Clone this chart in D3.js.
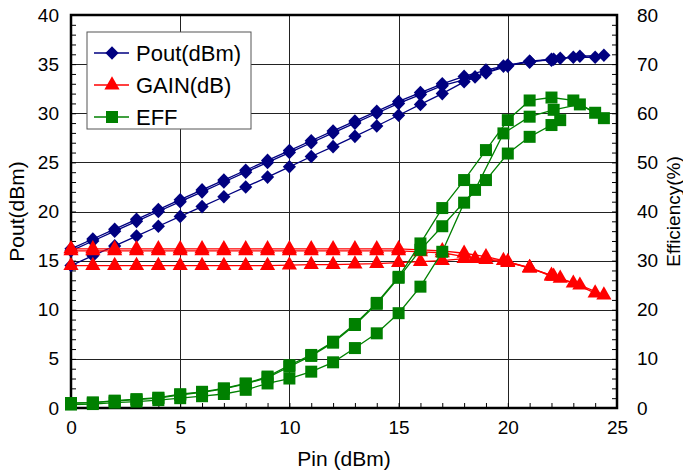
<!DOCTYPE html>
<html>
<head>
<meta charset="utf-8">
<script src="https://cdn.jsdelivr.net/npm/d3@7/dist/d3.min.js"></script>
<style>
  body { margin: 0; background: #fff; }
  svg text { font-family: "Liberation Sans", Arial, sans-serif; fill: #000; }
</style>
</head>
<body>
<svg id="chart"></svg>
<script>
// three sweeps: A and B (upper gain), C (lower gain)
var pinA = [0,1,2,3,4,5,6,7,8,9,10,11,12,13,14,15,16,17,18,19,20,21,22,23,24];
var poutA = [16.2,17.2,18.2,19.2,20.2,21.2,22.2,23.2,24.2,25.2,26.2,27.2,28.2,29.2,30.2,31.2,32.1,33.0,33.75,34.4,34.9,35.2,35.5,35.7,35.7];
var gainA = [16.2,16.2,16.2,16.2,16.2,16.2,16.2,16.2,16.2,16.2,16.2,16.2,16.2,16.2,16.2,16.2,16.1,16.0,15.75,15.4,14.9,14.2,13.5,12.7,11.7];
var effA = [1.0,1.1,1.5,1.8,2.1,2.8,3.3,4.0,5.0,6.4,8.7,10.8,13.5,17.1,21.4,26.7,33.5,40.7,46.4,52.5,58.6,62.6,63.2,62.6,60.1];

var pinB = [0,1,2,3,4,5,6,7,8,9,10,11,12,13,14,15,16,17,18.5,19.8,21,22.1,23.3,24.4];
var poutB = [16.0,17.0,18.0,19.0,20.0,21.0,22.0,23.0,24.0,25.0,26.0,27.0,28.0,29.0,30.0,31.0,31.9,32.8,33.7,34.8,35.3,35.5,35.8,35.9];
var gainB = [16.0,16.0,16.0,16.0,16.0,16.0,16.0,16.0,16.0,16.0,16.0,16.0,16.0,16.0,16.0,16.0,15.9,15.8,15.2,15.0,14.3,13.4,12.5,11.5];
var effB = [1.0,1.1,1.4,1.7,2.0,2.7,3.2,3.9,4.9,6.2,8.4,10.6,13.3,16.9,21.2,26.5,32.2,37.0,44.4,55.9,59.3,60.7,61.8,59.0];

var pinC = [0,1,2,3,4,5,6,7,8,9,10,11,12,13,14,15,16,17,18,19,20,21,22,22.4];
var poutC = [14.5,15.5,16.5,17.5,18.5,19.5,20.5,21.5,22.5,23.5,24.55,25.6,26.6,27.65,28.7,29.8,30.9,32.0,33.2,34.1,34.8,35.3,35.4,35.6];
var gainC = [14.5,14.5,14.5,14.5,14.5,14.5,14.5,14.5,14.5,14.5,14.55,14.6,14.6,14.65,14.7,14.8,14.9,15.0,15.2,15.1,14.8,14.3,13.4,13.2];
var effC = [0.7,0.8,1.1,1.3,1.6,2.0,2.4,2.85,3.7,5.0,6.0,7.4,9.3,12.2,15.2,19.3,24.7,31.8,41.8,46.4,51.8,55.2,57.6,58.6];

var legendNames = ["Pout(dBm)","GAIN(dB)","EFF"];
var colorNavy = "#000080", colorRed = "#ff0000", colorGreen = "#008000";

var screen = { width: 683, height: 470 };
var margins = { top: 15, bottom: 62, left: 71, right: 66 };
var width = screen.width - margins.left - margins.right;
var height = screen.height - margins.top - margins.bottom;

var svg = d3.select("#chart")
            .attr("width", screen.width)
            .attr("height", screen.height);

var xScale = d3.scaleLinear().domain([0,25]).range([0,width]);
var yScale = d3.scaleLinear().domain([0,40]).range([height,0]);
var y2Scale = d3.scaleLinear().domain([0,80]).range([height,0]);

var plot = svg.append("g")
              .attr("transform","translate("+margins.left+","+margins.top+")");

// grid
plot.append("g").selectAll("line")
    .data([5,10,15,20])
    .enter().append("line")
    .attr("x1",function(d){return Math.round(xScale(d))+0.5;})
    .attr("x2",function(d){return Math.round(xScale(d))+0.5;})
    .attr("y1",0).attr("y2",height)
    .attr("stroke","#222").attr("stroke-width",1);
plot.append("g").selectAll("line")
    .data([5,10,15,20,25,30,35])
    .enter().append("line")
    .attr("y1",function(d){return Math.round(yScale(d))+0.5;})
    .attr("y2",function(d){return Math.round(yScale(d))+0.5;})
    .attr("x1",0).attr("x2",width)
    .attr("stroke","#222").attr("stroke-width",1);

// axes, ticks inward
var fmt5 = function(d){ return d%5===0 ? d : ""; };
var xAxis = d3.axisBottom(xScale).tickValues(d3.range(0,26,1))
              .tickSize(-5).tickPadding(13).tickFormat(fmt5);
var yAxis = d3.axisLeft(yScale).tickValues(d3.range(0,41,1))
              .tickSize(-5).tickPadding(12).tickFormat(fmt5);
var y2Axis = d3.axisRight(y2Scale).tickValues(d3.range(0,81,2))
              .tickSize(-5).tickPadding(20).tickFormat(function(d){return d%10===0 ? d : "";});

function styleAxis(g)
{
  g.select(".domain").remove();
  g.selectAll(".tick line").attr("stroke","#000").attr("stroke-width",1);
  g.selectAll(".tick text").attr("font-size",19).attr("font-family","Liberation Sans, Arial, sans-serif");
}

plot.append("g").attr("transform","translate(0,"+height+")").call(xAxis).call(styleAxis);
plot.append("g").call(yAxis).call(styleAxis);
plot.append("g").attr("transform","translate("+width+",0)").call(y2Axis).call(styleAxis);

// frame
plot.append("rect")
    .attr("x",0).attr("y",0).attr("width",width).attr("height",height)
    .attr("fill","none").attr("stroke","#000").attr("stroke-width",2.5);

// symbols: diamond is a square turned 45 degrees
var diamond = function(){ return "M0,-6.8L6.6,0L0,6.8L-6.6,0Z"; };
var triangle = d3.symbol().type(d3.symbolTriangle).size(100);
var square = d3.symbol().type(d3.symbolSquare).size(144);

function drawSeries(pins, vals, scale, color, sym)
{
  var pts = pins.map(function(p,i){ return [p, vals[i]]; });
  var line = d3.line()
               .x(function(d){return xScale(d[0]);})
               .y(function(d){return scale(d[1]);});
  plot.append("path")
      .datum(pts)
      .attr("d",line)
      .attr("fill","none")
      .attr("stroke",color)
      .attr("stroke-width",1.3);
  plot.append("g").selectAll("path")
      .data(pts)
      .enter().append("path")
      .attr("d",sym)
      .attr("transform",function(d){return "translate("+xScale(d[0])+","+scale(d[1])+")";})
      .attr("fill",color);
}

drawSeries(pinA, poutA, yScale, colorNavy, diamond);
drawSeries(pinB, poutB, yScale, colorNavy, diamond);
drawSeries(pinC, poutC, yScale, colorNavy, diamond);
drawSeries(pinA, gainA, yScale, colorRed, triangle);
drawSeries(pinB, gainB, yScale, colorRed, triangle);
drawSeries(pinC, gainC, yScale, colorRed, triangle);
drawSeries(pinA, effA, y2Scale, colorGreen, square);
drawSeries(pinB, effB, y2Scale, colorGreen, square);
drawSeries(pinC, effC, y2Scale, colorGreen, square);

// legend
var legend = svg.append("g").attr("transform","translate(87,32)");
legend.append("rect")
      .attr("x",0).attr("y",0).attr("width",164).attr("height",97)
      .attr("fill","#fff").attr("stroke","#555").attr("stroke-width",1);
var legendSyms = [diamond, triangle, square];
var legendColors = [colorNavy, colorRed, colorGreen];
var legendLines = legend.selectAll("g.legendLine")
      .data(legendNames)
      .enter().append("g")
      .classed("legendLine",true)
      .attr("transform",function(d,i){return "translate(0,"+(21+i*32)+")";});
legendLines.append("line")
      .attr("x1",7).attr("x2",42).attr("y1",0).attr("y2",0)
      .attr("stroke",function(d,i){return legendColors[i];})
      .attr("stroke-width",1.3);
legendLines.append("path")
      .attr("d",function(d,i){return legendSyms[i]();})
      .attr("transform","translate(25,0)")
      .attr("fill",function(d,i){return legendColors[i];});
legendLines.append("text")
      .attr("x",49).attr("y",8)
      .attr("font-size",22)
      .text(function(d){return d;});

// axis titles
svg.append("text")
   .attr("x",margins.left+width/2).attr("y",466)
   .attr("text-anchor","middle").attr("font-size",21)
   .text("Pin (dBm)");
svg.append("text")
   .attr("transform","translate(24,"+(margins.top+height/2)+") rotate(-90)")
   .attr("text-anchor","middle").attr("font-size",21)
   .text("Pout(dBm)");
svg.append("text")
   .attr("transform","translate(680,"+(margins.top+height/2)+") rotate(-90)")
   .attr("text-anchor","middle").attr("font-size",19)
   .text("Efficiency(%)");
</script>
</body>
</html>
